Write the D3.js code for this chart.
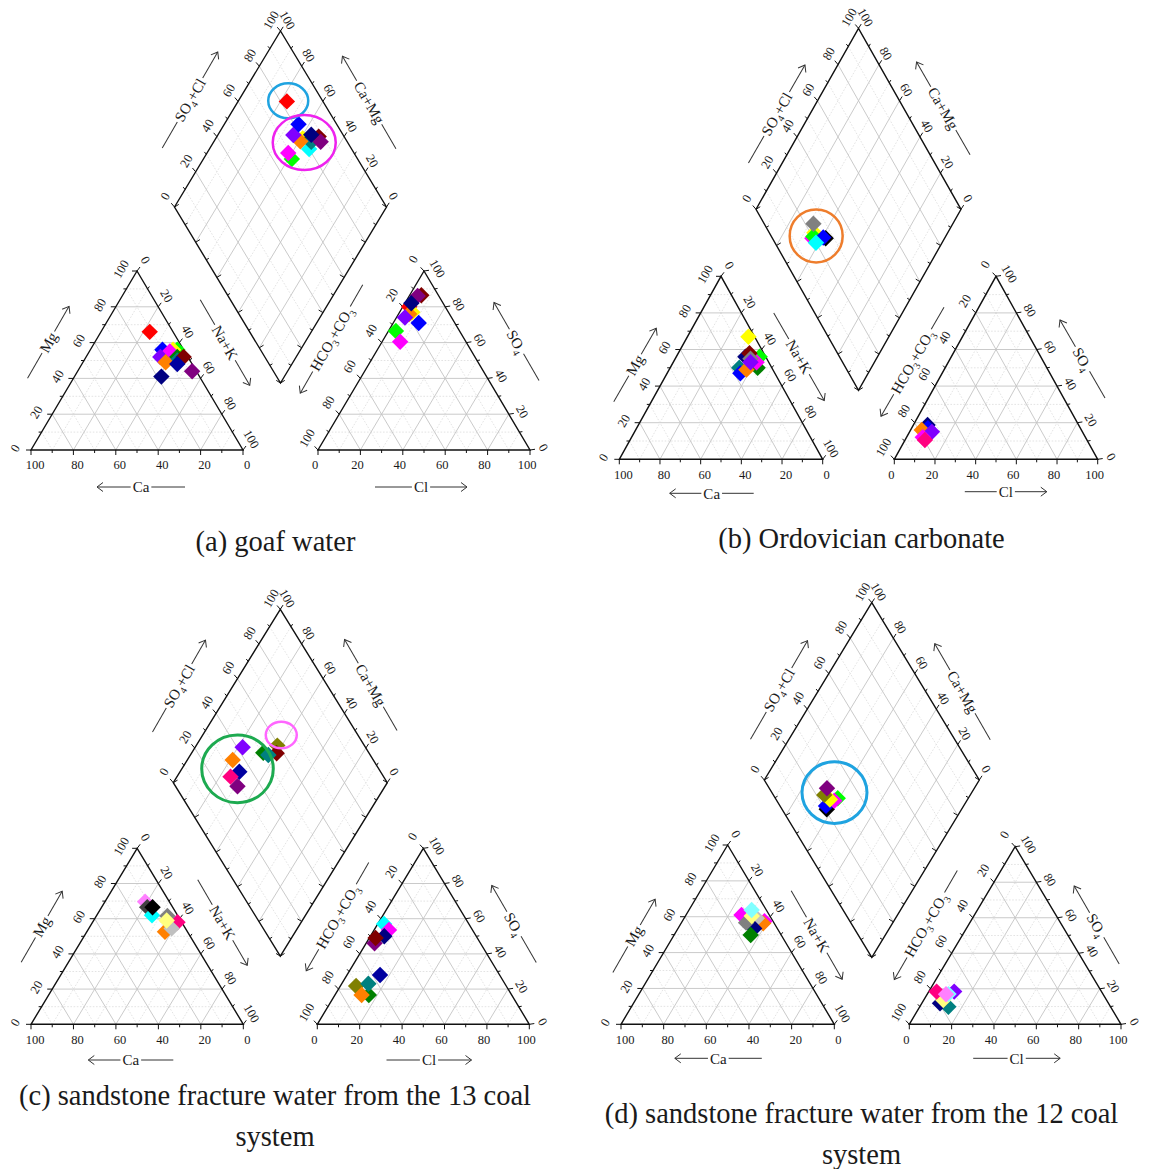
<!DOCTYPE html>
<html>
<head>
<meta charset="utf-8">
<script src="https://cdn.jsdelivr.net/npm/d3@7"></script>
<style>
  body { margin: 0; background: #fff; }
  svg { display: block; }
  text { font-family: "Liberation Serif", "Times New Roman", serif; fill: #1a1a1a; }
</style>
</head>
<body>
<svg id="chart" width="1152" height="1169"></svg>
<script>
// Marker colours (Origin-style increment list)
const palette = {
  black: "#000000", red: "#FF0000", green: "#00FF00", blue: "#0000FF", cyan: "#00FFFF",
  magenta: "#FF00FF", yellow: "#FFFF00", darkYellow: "#808000", navy: "#000080",
  purple: "#800080", wine: "#800000", olive: "#008000", darkCyan: "#008080",
  royal: "#0000A0", orange: "#FF8000", violet: "#8000FF", pink: "#FF0080",
  ltGray: "#C0C0C0", gray: "#808080", ltYellow: "#FFFF80", ltCyan: "#80FFFF",
  ltMagenta: "#FF80FF", darkGray: "#404040"
};

const tickValues = [0, 10, 20, 30, 40, 50, 60, 70, 80, 90, 100];
const tickLabels = [0, 20, 40, 60, 80, 100];

// ---- (a) goaf water ----
// cations: [colour, Ca %, Mg %]  (Na+K = remainder)
const goafCations = [
  ["blue", 10, 56], ["green", 3, 56], ["yellow", 5, 56], ["magenta", 7, 55],
  ["olive", 5, 52], ["darkCyan", 6, 50], ["wine", 2, 52], ["violet", 13, 52],
  ["orange", 12, 49], ["royal", 7, 48], ["purple", 2, 44], ["navy", 18, 41], ["red", 11, 66]
];
// anions: [colour, Cl %, SO4 %]  (HCO3+CO3 = remainder)
const goafAnions = [
  ["red", 3, 80], ["wine", 5.5, 86.5], ["purple", 4, 86], ["yellow", 6, 77], ["orange", 5, 76],
  ["navy", 3, 82], ["violet", 4, 74], ["blue", 12, 71], ["green", 3.5, 66.5], ["magenta", 8.5, 60.5]
];
// diamond: [colour, SO4+Cl %, Na+K %]
const goafDiamond = [
  ["cyan", 80, 47], ["green", 69, 41.7], ["yellow", 80, 41], ["olive", 84, 45], ["darkCyan", 83, 46],
  ["wine", 88, 48], ["purple", 87.5, 50.4], ["navy", 85, 44], ["orange", 78, 40.7],
  ["violet", 76.5, 35.6], ["blue", 82, 35], ["magenta", 69, 38.3], ["red", 83, 23]
];
// group rings: [colour, SO4+Cl %, Na+K %, rx, ry, width]
const goafRings = [["#1FA3E0", 83.8, 23.5, 20, 17.5, 2.5], ["#EE22EE", 79.5, 42.9, 31.5, 27.5, 2.5]];

// ---- (b) Ordovician carbonate ----
const ordCations = [
  ["darkCyan", 16, 50], ["blue", 17, 47], ["navy", 10, 56], ["green", 3, 56], ["olive", 7, 50],
  ["magenta", 6, 53], ["wine", 7, 58], ["gray", 8, 55], ["orange", 13, 49], ["violet", 9, 53], ["yellow", 3, 67]
];
const ordAnions = [
  ["navy", 7, 18.7], ["blue", 8, 17], ["orange", 5.5, 16], ["violet", 11, 15], ["magenta", 8, 12], ["pink", 9.8, 10.5]
];
const ordDiamond = [
  ["black", 26, 42], ["yellow", 22, 35], ["magenta", 19.5, 35.5], ["green", 20.5, 35.5],
  ["blue", 25, 40.6], ["cyan", 20, 38.5], ["gray", 24, 32]
];
const ordRings = [["#EE7D2C", 22, 36.7, 26.5, 26.5, 2.5]];

// ---- (c) sandstone fracture water, 13 coal system ----
const c13Cations = [
  ["ltMagenta", 11.4, 69.7], ["darkGray", 12, 66.5], ["cyan", 12, 62], ["black", 9.5, 66.5],
  ["pink", 2, 58], ["gray", 5, 61.5], ["orange", 10.6, 52.6], ["ltGray", 6.5, 54.5], ["ltYellow", 6.6, 59]
];
const c13Anions = [
  ["cyan", 3, 57], ["magenta", 7, 53.6], ["navy", 6.6, 50], ["purple", 4, 46], ["wine", 3, 49],
  ["royal", 15.6, 28], ["darkYellow", 7.4, 21.8], ["olive", 16, 16.6], ["darkCyan", 12.6, 23], ["orange", 12.6, 16.6]
];
const c13Diamond = [
  ["royal", 34, 27.7], ["pink", 28.5, 25], ["purple", 29, 31], ["orange", 34.3, 21.2], ["violet", 42.6, 22.2],
  ["darkYellow", 59.3, 37.9], ["wine", 56.8, 39.8], ["olive", 50.7, 33.4], ["darkCyan", 52.4, 36.4]
];
const c13Rings = [["#1DAA50", 34, 26, 35.8, 33.8, 3], ["#FF66FF", 64.2, 36.7, 15.5, 13.3, 2.5]];

// ---- (d) sandstone fracture water, 12 coal system ----
const c12Cations = [
  ["magenta", 13, 61], ["magenta", 4, 57.5], ["orange", 5.2, 56.3], ["ltGray", 6.8, 59.1], ["navy", 10.8, 53.5],
  ["olive", 14.3, 49.8], ["gray", 13, 56.7], ["ltYellow", 8.5, 60.4], ["ltCyan", 6.9, 63.7]
];
const c12Anions = [
  ["darkCyan", 13.5, 9.9], ["navy", 8.6, 11.8], ["ltYellow", 9.2, 13.7], ["pink", 3.7, 18.4],
  ["violet", 12, 18.4], ["ltCyan", 10, 17], ["ltMagenta", 8.9, 16.9]
];
const c12Diamond = [
  ["black", 20.8, 37.3], ["blue", 21.4, 36], ["green", 29, 39.3], ["magenta", 26.7, 38.4],
  ["yellow", 25, 36], ["darkYellow", 23.7, 32.1], ["purple", 26.8, 31.5]
];
const c12Rings = [["#1FA3E0", 29.1, 36.2, 32.5, 30.8, 3]];

const captions = [
  ["(a) goaf water"],
  ["(b) Ordovician carbonate"],
  ["(c) sandstone fracture water from the 13 coal", "system"],
  ["(d) sandstone fracture water from the 12 coal", "system"]
];

// ---- panel geometry ----
const layouts = [
  { cat: { x0: 31, base: 450, s: 212, h: 179 }, an: { x0: 318, base: 450, s: 212, h: 179 },
    dia: { cx: 280.5, top: 31, mid: 207, hw: 106 },
    titles: { Ca: [141, 487, 88], Mg: [48.3, 342.3, 83], NaK: [225, 342.5, 99], Cl: [421, 487, 92],
              HCO3: [331.5, 339, 125], SO4: [516.5, 341.5, 90], SO4Cl: [190, 100, 111], CaMg: [369.2, 102.5, 107] },
    cap: { x: 275.5, y: [551] } },
  { cat: { x0: 619.3, base: 459.3, s: 203.4, h: 183 }, an: { x0: 894.3, base: 459.3, s: 203.4, h: 183 },
    dia: { cx: 858.5, top: 28.3, mid: 209.3, hw: 102.5 },
    titles: { Ca: [711.7, 493.3, 84], Mg: [635, 365, 85], NaK: [799, 356.7, 101], Cl: [1005.8, 491.7, 82],
              HCO3: [912.5, 361.7, 126], SO4: [1082.5, 359, 90], SO4Cl: [776.7, 114, 113], CaMg: [943.3, 108.3, 107] },
    cap: { x: 861.5, y: [548] } },
  { cat: { x0: 31, base: 1024.3, s: 212.3, h: 176 }, an: { x0: 317.3, base: 1024.3, s: 212, h: 176 },
    dia: { cx: 280.3, top: 609.3, mid: 782.7, hw: 107 },
    titles: { Ca: [130.8, 1060, 85], Mg: [41.7, 926.7, 82], NaK: [222.5, 922.5, 99], Cl: [429, 1060, 85],
              HCO3: [337.5, 916.7, 125], SO4: [514, 924, 89], SO4Cl: [179, 686, 106], CaMg: [370.8, 685, 105] },
    cap: { x: 275, y: [1105, 1146] } },
  { cat: { x0: 621, base: 1024.3, s: 213.3, h: 179.3 }, an: { x0: 909.3, base: 1024.3, s: 211.7, h: 177.6 },
    dia: { cx: 871.8, top: 602.7, mid: 780, hw: 107.5 },
    titles: { Ca: [718.3, 1058.3, 87], Mg: [634, 935.8, 84.5], NaK: [816.7, 935, 102], Cl: [1016.7, 1058.3, 87],
              HCO3: [925.8, 925, 126], SO4: [1096.7, 925, 90], SO4Cl: [779, 690, 114], CaMg: [962.5, 691.7, 111] },
    cap: { x: 861.5, y: [1123, 1164] } }
];

const panelData = [
  { cations: goafCations, anions: goafAnions, diamond: goafDiamond, rings: goafRings },
  { cations: ordCations, anions: ordAnions, diamond: ordDiamond, rings: ordRings },
  { cations: c13Cations, anions: c13Anions, diamond: c13Diamond, rings: c13Rings },
  { cations: c12Cations, anions: c12Anions, diamond: c12Diamond, rings: c12Rings }
];

const svg = d3.select("#chart");
const marker = d3.symbol().type(d3.symbolSquare).size(135);

function gridLine(g, a, b, major) {
  g.append("line")
    .attr("x1", a[0]).attr("y1", a[1]).attr("x2", b[0]).attr("y2", b[1])
    .attr("stroke", major ? "#c4c4c4" : "#dcdcdc")
    .attr("stroke-width", major ? 0.9 : 0.8)
    .attr("stroke-dasharray", major ? null : "1.6,1.6");
}

// draws ticks and labels along one axis
function axisTicks(g, pointOf, dir, off, rot, withLabels) {
  tickValues.forEach(v => {
    const p = pointOf(v);
    const len = v % 20 === 0 ? 5 : 3;
    g.append("line")
      .attr("x1", p[0]).attr("y1", p[1])
      .attr("x2", p[0] + dir[0] * len).attr("y2", p[1] + dir[1] * len)
      .attr("stroke", "#111").attr("stroke-width", 1);
  });
  if (!withLabels) return;
  tickLabels.forEach(v => {
    const p = pointOf(v);
    g.append("text")
      .attr("transform", `translate(${p[0] + off[0]},${p[1] + off[1]}) rotate(${rot})`)
      .attr("text-anchor", "middle").attr("dy", "0.35em")
      .attr("font-size", 12.5).text(v);
  });
}

function triangle(g, T, axes) {
  const sx = d3.scaleLinear().domain([0, 100]).range([T.x0, T.x0 + T.s]);
  const sy = d3.scaleLinear().domain([0, 100]).range([T.base, T.base - T.h]);
  const P = (r, t) => [sx(r + t / 2), sy(t)];
  const grid = g.append("g");
  d3.range(10, 100, 10).forEach(k => {
    const major = k % 20 === 0;
    gridLine(grid, P(0, k), P(100 - k, k), major);
    gridLine(grid, P(k, 0), P(k, 100 - k), major);
    gridLine(grid, P(100 - k, 0), P(0, 100 - k), major);
  });
  g.append("path")
    .attr("d", d3.line()([P(0, 0), P(100, 0), P(0, 100)]) + "Z")
    .attr("fill", "none").attr("stroke", "#111").attr("stroke-width", 1.4);
  axes(P).forEach(a => axisTicks(g, a.at, a.dir, a.off, a.rot, true));
  return P;
}

function diamond(g, D) {
  const hh = D.mid - D.top;
  const sx = d3.scaleLinear().domain([0, 200]).range([D.cx - D.hw, D.cx + D.hw]);
  const sy = d3.scaleLinear().domain([-100, 100]).range([D.mid + hh, D.mid - hh]);
  const Q = (u, v) => [sx(u + v), sy(u - v)];
  const grid = g.append("g");
  d3.range(10, 100, 10).forEach(k => {
    const major = k % 20 === 0;
    gridLine(grid, Q(k, 0), Q(k, 100), major);
    gridLine(grid, Q(0, k), Q(100, k), major);
  });
  g.append("path")
    .attr("d", d3.line()([Q(0, 0), Q(100, 0), Q(100, 100), Q(0, 100)]) + "Z")
    .attr("fill", "none").attr("stroke", "#111").attr("stroke-width", 1.4);
  axisTicks(g, u => Q(u, 0), [-0.65, -0.76], [-9.5, -11], -60, true);
  axisTicks(g, c => Q(100, 100 - c), [0.54, -0.84], [7, -11], 60, true);
  axisTicks(g, v => Q(0, v), [0.85, -0.52], [0, 0], 0, false);
  axisTicks(g, u => Q(u, 100), [-0.85, -0.52], [0, 0], 0, false);
  return Q;
}

function axisTitle(g, spec, rot, parts, arrowAt) {
  const [cx, cy, len] = spec;
  const t = g.append("g").attr("transform", `translate(${cx},${cy}) rotate(${rot})`);
  const txt = t.append("text").attr("text-anchor", "middle").attr("dy", "0.35em").attr("font-size", 15);
  parts.forEach(([s, sub]) => {
    const ts = txt.append("tspan").text(s);
    if (sub) ts.attr("font-size", 10).attr("dy", 4);
    else if (txt.selectAll("tspan").size() > 1) ts.attr("dy", -4);
  });
  const w = txt.node().getComputedTextLength();
  const stroke = l => l.attr("stroke", "#333").attr("stroke-width", 1);
  stroke(t.append("line").attr("x1", -len / 2).attr("x2", -w / 2 - 2).attr("y1", 0).attr("y2", 0));
  stroke(t.append("line").attr("x1", w / 2 + 2).attr("x2", len / 2).attr("y1", 0).attr("y2", 0));
  const e = arrowAt === "end" ? len / 2 : -len / 2;
  const b = arrowAt === "end" ? e - 6 : e + 6;
  t.append("path").attr("d", `M${b},-4.5L${e},0L${b},4.5`)
    .attr("fill", "none").attr("stroke", "#333").attr("stroke-width", 1);
}

function points(g, rows, toXY) {
  g.append("g").selectAll("path").data(rows).join("path")
    .attr("d", marker)
    .attr("transform", d => { const p = toXY(d); return `translate(${p[0]},${p[1]}) rotate(45)`; })
    .attr("fill", d => palette[d[0]]);
}

layouts.forEach((L, i) => {
  const data = panelData[i];
  const g = svg.append("g");

  const P = triangle(g, L.cat, P => [
    { at: c => P(100 - c, 0), dir: [0, 1], off: [4, 15], rot: 0 },
    { at: m => P(0, m), dir: [-1, 0], off: [-16, -2], rot: -60 },
    { at: n => P(n, 100 - n), dir: [0.6, -0.8], off: [8.5, -11], rot: 60 }
  ]);
  const A = triangle(g, L.an, P => [
    { at: c => P(c, 0), dir: [0, 1], off: [-3, 15], rot: 0 },
    { at: h => P(0, 100 - h), dir: [-0.68, -0.73], off: [-11, -12], rot: -60 },
    { at: s => P(100 - s, s), dir: [1, -0.15], off: [13.6, -2.6], rot: 60 }
  ]);
  const Q = diamond(g, L.dia);

  const t = L.titles;
  axisTitle(g, t.Ca, 0, [["Ca"]], "start");
  axisTitle(g, t.Mg, -60, [["Mg"]], "end");
  axisTitle(g, t.NaK, 60, [["Na+K"]], "end");
  axisTitle(g, t.Cl, 0, [["Cl"]], "end");
  axisTitle(g, t.HCO3, -60, [["HCO"], ["3", true], ["+CO"], ["3", true]], "start");
  axisTitle(g, t.SO4, 60, [["SO"], ["4", true]], "start");
  axisTitle(g, t.SO4Cl, -60, [["SO"], ["4", true], ["+Cl"]], "end");
  axisTitle(g, t.CaMg, 60, [["Ca+Mg"]], "start");

  points(g, data.cations, d => P(100 - d[1] - d[2], d[2]));
  points(g, data.anions, d => A(d[1], d[2]));
  points(g, data.diamond, d => Q(d[1], d[2]));

  data.rings.forEach(r => {
    const c = Q(r[1], r[2]);
    g.append("ellipse").attr("cx", c[0]).attr("cy", c[1]).attr("rx", r[3]).attr("ry", r[4])
      .attr("fill", "none").attr("stroke", r[0]).attr("stroke-width", r[5]);
  });

  captions[i].forEach((line, j) => {
    g.append("text").attr("x", L.cap.x).attr("y", L.cap.y[j])
      .attr("text-anchor", "middle").attr("font-size", 28.5).text(line);
  });
});
</script>
</body>
</html>
